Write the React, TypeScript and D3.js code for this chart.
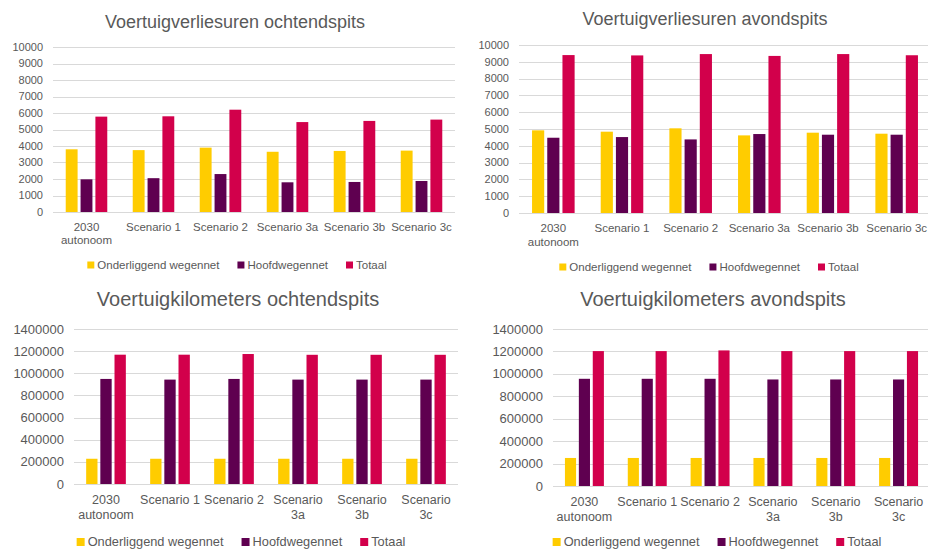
import React, { useEffect, useRef } from 'react'
import * as d3 from 'd3'

// categories and legend
const categories = ['2030 autonoom', 'Scenario 1', 'Scenario 2', 'Scenario 3a', 'Scenario 3b', 'Scenario 3c']
const labelsWide = [['2030', 'autonoom'], ['Scenario 1'], ['Scenario 2'], ['Scenario 3a'], ['Scenario 3b'], ['Scenario 3c']]
const labelsNarrow = [['2030', 'autonoom'], ['Scenario 1'], ['Scenario 2'], ['Scenario', '3a'], ['Scenario', '3b'], ['Scenario', '3c']]
const seriesNames = ['Onderliggend wegennet', 'Hoofdwegennet', 'Totaal']
const seriesColors = ['#FFCC00', '#5F0050', '#D2004B']

// voertuigverliesuren
const verliesOchtendOnderliggend = [3800, 3750, 3900, 3650, 3700, 3720]
const verliesOchtendHoofd = [1980, 2050, 2300, 1800, 1820, 1880]
const verliesOchtendTotaal = [5780, 5800, 6200, 5450, 5520, 5600]

const verliesAvondOnderliggend = [4920, 4840, 5040, 4620, 4780, 4720]
const verliesAvondHoofd = [4480, 4520, 4380, 4700, 4660, 4660]
const verliesAvondTotaal = [9400, 9380, 9460, 9350, 9460, 9390]

// voertuigkilometers
const kmOchtendOnderliggend = [228000, 228000, 228000, 228000, 228000, 228000]
const kmOchtendHoofd = [949000, 943000, 949000, 943000, 943000, 943000]
const kmOchtendTotaal = [1168000, 1168000, 1174000, 1167000, 1167000, 1167000]

const kmAvondOnderliggend = [250000, 250000, 250000, 250000, 250000, 250000]
const kmAvondHoofd = [956000, 956000, 956000, 950000, 950000, 950000]
const kmAvondTotaal = [1203000, 1203000, 1209000, 1203000, 1203000, 1203000]

const FONT = "'Liberation Sans', Arial, sans-serif"
const TEXT = '#595959'
const GRID = '#D9D9D9'

const panels = [
  {
    title: 'Voertuigverliesuren ochtendspits',
    values: [verliesOchtendOnderliggend, verliesOchtendHoofd, verliesOchtendTotaal],
    labels: labelsWide, max: 10000, step: 1000,
    x0: 53, x1: 455, yTop: 47, yBot: 212,
    titleX: 235, titleY: 28, titleSize: 18,
    tickSize: 11, catSize: 11.5, catY: 231, lineH: 13,
    legendX: 237, legendY: 265, legendSize: 11.5, sq: 7,
  },
  {
    title: 'Voertuigverliesuren avondspits',
    values: [verliesAvondOnderliggend, verliesAvondHoofd, verliesAvondTotaal],
    labels: labelsWide, max: 10000, step: 1000,
    x0: 519, x1: 931, yTop: 45, yBot: 213,
    titleX: 705, titleY: 25, titleSize: 18,
    tickSize: 11, catSize: 11.5, catY: 232, lineH: 14,
    legendX: 709, legendY: 267, legendSize: 11.5, sq: 7,
  },
  {
    title: 'Voertuigkilometers ochtendspits',
    values: [kmOchtendOnderliggend, kmOchtendHoofd, kmOchtendTotaal],
    labels: labelsNarrow, max: 1400000, step: 200000,
    x0: 74, x1: 458, yTop: 329, yBot: 484,
    titleX: 238, titleY: 306, titleSize: 20,
    tickSize: 13, catSize: 12.5, catY: 504, lineH: 15,
    legendX: 241, legendY: 542, legendSize: 12.8, sq: 8,
  },
  {
    title: 'Voertuigkilometers avondspits',
    values: [kmAvondOnderliggend, kmAvondHoofd, kmAvondTotaal],
    labels: labelsNarrow, max: 1400000, step: 200000,
    x0: 553, x1: 930, yTop: 329, yBot: 486,
    titleX: 713, titleY: 306, titleSize: 20,
    tickSize: 13, catSize: 12.5, catY: 506, lineH: 15,
    legendX: 717, legendY: 542, legendSize: 12.8, sq: 8,
  },
]

function drawPanel(svg: any, p: any) {
  const g = svg.append('g')

  const x = d3.scaleBand().domain(categories).range([p.x0, p.x1]).padding(0)
  const bw = x.bandwidth()
  const xs = d3.scaleBand().domain(seriesNames).range([bw * 0.19, bw * 0.81]).paddingInner(0.2)
  const y = d3.scaleLinear().domain([0, p.max]).range([p.yBot, p.yTop])
  const ticks = d3.range(0, p.max + p.step, p.step)

  // title
  g.append('text')
    .attr('x', p.titleX).attr('y', p.titleY)
    .attr('text-anchor', 'middle')
    .style('font-family', FONT).style('font-size', p.titleSize + 'px')
    .attr('fill', TEXT)
    .text(p.title)

  // gridlines
  g.selectAll('line.grid').data(ticks).enter().append('line')
    .attr('x1', p.x0).attr('x2', p.x1)
    .attr('y1', (d: number) => Math.round(y(d)) + 0.5)
    .attr('y2', (d: number) => Math.round(y(d)) + 0.5)
    .attr('stroke', GRID).attr('stroke-width', 1)

  // y tick labels
  g.selectAll('text.ytick').data(ticks).enter().append('text')
    .attr('x', p.x0 - 10)
    .attr('y', (d: number) => y(d))
    .attr('dy', '0.35em')
    .attr('text-anchor', 'end')
    .style('font-family', FONT).style('font-size', p.tickSize + 'px')
    .attr('fill', TEXT)
    .text((d: number) => String(d))

  // bars
  p.values.forEach((vals: number[], si: number) => {
    g.selectAll(null).data(vals).enter().append('rect')
      .attr('x', (_d: number, i: number) => (x(categories[i]) as number) + (xs(seriesNames[si]) as number))
      .attr('y', (d: number) => y(d))
      .attr('width', xs.bandwidth())
      .attr('height', (d: number) => y(0) - y(d))
      .attr('fill', seriesColors[si])
  })

  // category labels
  categories.forEach((c, i) => {
    const t = g.append('text')
      .attr('text-anchor', 'middle')
      .style('font-family', FONT).style('font-size', p.catSize + 'px')
      .attr('fill', TEXT)
    p.labels[i].forEach((line: string, li: number) => {
      t.append('tspan')
        .attr('x', (x(c) as number) + bw / 2)
        .attr('y', p.catY + li * p.lineH)
        .text(line)
    })
  })

  // legend
  const lg = g.append('g')
  let cx = 0
  seriesNames.forEach((s, i) => {
    lg.append('rect')
      .attr('x', cx).attr('y', p.legendY - p.sq / 2)
      .attr('width', p.sq).attr('height', p.sq)
      .attr('fill', seriesColors[i])
    const t = lg.append('text')
      .attr('x', cx + p.sq + 3).attr('y', p.legendY)
      .attr('dy', '0.35em')
      .style('font-family', FONT).style('font-size', p.legendSize + 'px')
      .attr('fill', TEXT)
      .text(s)
    const w = (t.node() as SVGTextElement).getComputedTextLength()
    cx += p.sq + 3 + w + (i < seriesNames.length - 1 ? 18 : 0)
  })
  lg.attr('transform', 'translate(' + (p.legendX - cx / 2) + ',0)')
}

export default function App() {
  const ref = useRef<SVGSVGElement>(null)

  useEffect(() => {
    const svg = d3.select(ref.current)
    svg.selectAll('*').remove()
    svg.append('rect').attr('width', 928).attr('height', 550).attr('fill', '#fff')
    panels.forEach(p => drawPanel(svg, p))
  }, [])

  return (
    <svg ref={ref} width={928} height={550}
      style={{ position: 'absolute', left: 0, top: 0, display: 'block' }} />
  )
}
